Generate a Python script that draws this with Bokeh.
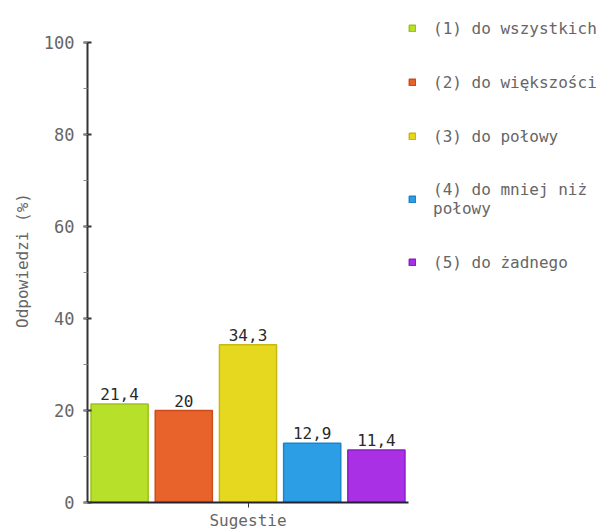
from bokeh.plotting import figure
from bokeh.models import Range1d, FixedTicker, SingleIntervalTicker, Legend, LegendItem, ColumnDataSource
from bokeh.core.properties import value
from bokeh.embed import file_html
from bokeh.resources import INLINE

# ---- data ----
category = ["Sugestie"]
series_labels = ["(1) do wszystkich", "(2) do większości", "(3) do połowy",
                 "(4) do mniej niż\npołowy", "(5) do żadnego"]
values = [21.4, 20.0, 34.3, 12.9, 11.4]
fill_colors = ["#b6e02a", "#e8622c", "#e6d81e", "#2c9ee6", "#aa30e6"]
line_colors = ["#9cc21c", "#cc4c1c", "#c8b812", "#1c84c8", "#8c1cc8"]
y_max = 100

FONT = "DejaVu Sans Mono"

# frame from y=18 to y=502 px; axis drawn only from 0 to 100
y_top = y_max * (502 - 18) / (502 - 42)

p = figure(frame_width=321, frame_height=484, output_backend="svg", toolbar_location=None,
           x_range=Range1d(0, len(values)), y_range=Range1d(0, y_top),
           min_border_left=87, min_border_right=200, min_border_top=18, min_border_bottom=29)
p.outline_line_color = None
p.xgrid.visible = False
p.ygrid.visible = False
p.background_fill_color = "white"

def fmt(v):
    s = ("%.1f" % v).rstrip("0").rstrip(".")
    return s.replace(".", ",")

xs = [i + 0.5 for i in range(len(values))]
renderers = []
for i, v in enumerate(values):
    src = ColumnDataSource(dict(x=[xs[i]], top=[v]))
    r = p.vbar(x="x", top="top", bottom=0, width=0.89, source=src,
               fill_color=fill_colors[i], line_color=line_colors[i], line_width=1.5)
    renderers.append(r)

lab_src = ColumnDataSource(dict(x=xs, y=values, t=[fmt(v) for v in values]))
p.text(x="x", y="y", text="t", source=lab_src, text_align="center", text_baseline="bottom",
       y_offset=-4, text_font=value(FONT), text_font_size="16px", text_color="#2a2a2a")

# y axis
yax = p.yaxis[0]
yax.ticker = SingleIntervalTicker(interval=20, num_minor_ticks=2)
yax.bounds = (0, y_max)
yax.axis_label = "Odpowiedzi (%)"
yax.axis_label_text_font = FONT
yax.axis_label_text_font_size = "16px"
yax.axis_label_text_font_style = "normal"
yax.axis_label_text_color = "#666666"
yax.axis_label_standoff = 9
yax.major_label_text_font = FONT
yax.major_label_text_font_size = "17px"
yax.major_label_text_color = "#666666"
yax.major_label_standoff = 9
yax.axis_line_color = "#333333"
yax.axis_line_width = 2
yax.major_tick_in = 4
yax.major_tick_out = 4
yax.major_tick_line_color = "#333333"
yax.major_tick_line_width = 2
yax.minor_tick_in = 0
yax.minor_tick_out = 4
yax.minor_tick_line_color = "#888888"

# x axis
xax = p.xaxis[0]
xax.ticker = FixedTicker(ticks=[len(values) / 2])
xax.major_label_overrides = {len(values) / 2: category[0]}
xax.major_label_text_font = FONT
xax.major_label_text_font_size = "16px"
xax.major_label_text_color = "#666666"
xax.major_label_standoff = 3
xax.axis_line_color = "#222233"
xax.axis_line_width = 2
xax.major_tick_in = 0
xax.major_tick_out = 5
xax.major_tick_line_color = "#333333"
xax.minor_tick_line_color = None

legend = Legend(items=[LegendItem(label=series_labels[i], renderers=[renderers[i]]) for i in range(len(values))],
                location="top_left", orientation="vertical",
                glyph_width=8, glyph_height=8, label_height=20, spacing=34,
                label_standoff=17, padding=0, margin=0,
                border_line_color=None, background_fill_alpha=0,
                label_text_font=FONT, label_text_font_size="16px", label_text_color="#666666")
p.add_layout(legend, "right")

open("out.html", "w").write(file_html(p, INLINE))
